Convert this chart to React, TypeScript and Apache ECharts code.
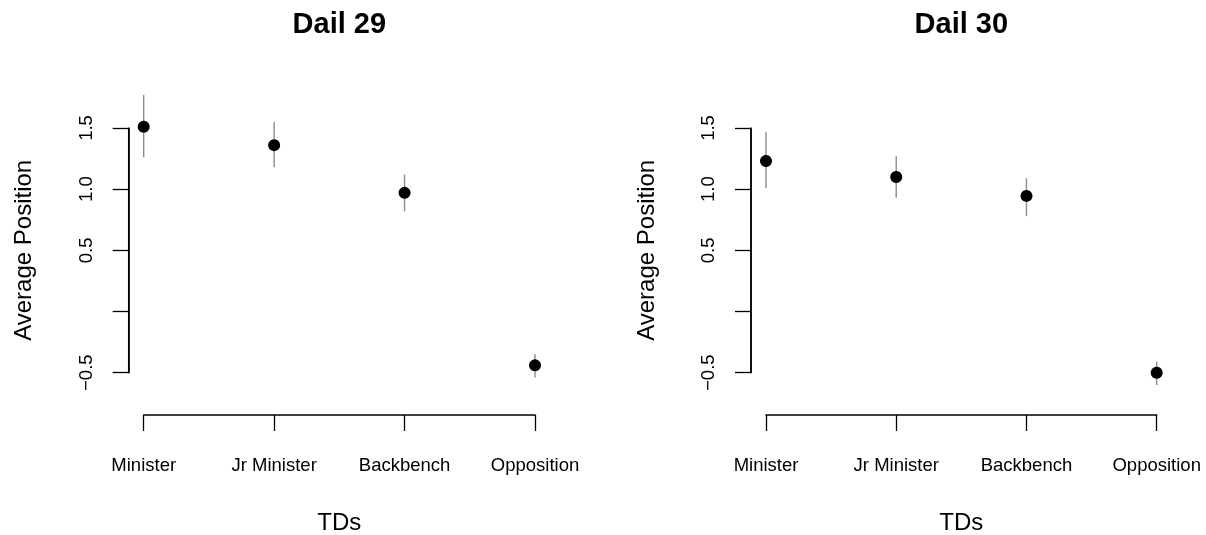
import { useEffect, useRef } from 'react'
import * as echarts from 'echarts'

// 数据：每组的均值与误差线上下端
const categories = ['Minister', 'Jr Minister', 'Backbench', 'Opposition']
const yTicks = [-0.5, 0, 0.5, 1.0, 1.5]

const dail29Mean = [1.51, 1.36, 0.97, -0.44]
const dail29Lo = [1.26, 1.18, 0.82, -0.54]
const dail29Hi = [1.77, 1.55, 1.12, -0.35]

const dail30Mean = [1.23, 1.10, 0.945, -0.50]
const dail30Lo = [1.01, 0.93, 0.78, -0.60]
const dail30Hi = [1.47, 1.27, 1.09, -0.41]

const panels = [
  { title: 'Dail 29', mean: dail29Mean, lo: dail29Lo, hi: dail29Hi },
  { title: 'Dail 30', mean: dail30Mean, lo: dail30Lo, hi: dail30Hi },
]

const FONT = '"Liberation Sans", Arial, Helvetica, sans-serif'
const Y_OFFSET = 15 // y 轴离开第一个类目的距离（R 风格）

// 每个面板的绘图区（第一个到最后一个刻度）
const grids = [
  { left: 143.7, top: 128, width: 391.3, height: 244.7 },
  { left: 766, top: 128, width: 390.7, height: 244.7 },
]

const App: React.FC = () => {
  const chartRef = useRef<HTMLDivElement>(null)

  useEffect(() => {
    if (!chartRef.current) return
    const chart = echarts.init(chartRef.current, null, { renderer: 'svg' })

    const axisLine = () => ({ show: true, onZero: false, lineStyle: { color: '#000', width: 1.5 } })
    const axisTick = () => ({ show: true, length: 16, lineStyle: { color: '#000', width: 1.3 } })

    const option: any = {
      animation: false,
      grid: grids.map((g) => ({ ...g, containLabel: false })),
      graphic: panels.map((p, i) => ({
        type: 'text',
        x: grids[i].left + grids[i].width / 2,
        y: 23,
        style: {
          text: p.title,
          fill: '#000',
          font: `bold 29px ${FONT}`,
          align: 'center',
          verticalAlign: 'middle',
        },
      })),
      xAxis: panels.map((_, i) => ({
        type: 'category',
        gridIndex: i,
        data: categories,
        boundaryGap: false,
        position: 'bottom',
        offset: 42.3,
        axisLine: axisLine(),
        axisTick: axisTick(),
        splitLine: { show: false },
        axisLabel: { margin: 40, color: '#000', fontSize: 18.5, fontFamily: FONT, interval: 0 },
        name: 'TDs',
        nameLocation: 'middle',
        nameGap: 94,
        nameTextStyle: { color: '#000', fontSize: 24, fontFamily: FONT },
      })),
      yAxis: panels.map((_, i) => ({
        type: 'value',
        gridIndex: i,
        min: yTicks[0],
        max: yTicks[yTicks.length - 1],
        interval: 0.5,
        position: 'left',
        offset: Y_OFFSET,
        axisLine: axisLine(),
        axisTick: axisTick(),
        splitLine: { show: false },
        axisLabel: {
          rotate: 90,
          margin: 34,
          color: '#000',
          fontSize: 18.5,
          fontFamily: FONT,
          // 0.0 不显示标签
          formatter: (v: number) => (Math.abs(v) < 1e-9 ? '' : v.toFixed(1).replace('-', '\u2212')),
        },
        name: 'Average Position',
        nameLocation: 'middle',
        nameRotate: 90,
        nameGap: 94,
        nameTextStyle: { color: '#000', fontSize: 24, fontFamily: FONT },
      })),
      series: panels.flatMap((p, i) => [
        // y 轴竖线（备用绘制）
        {
          type: 'custom',
          xAxisIndex: i,
          yAxisIndex: i,
          clip: false,
          silent: true,
          z: 10,
          data: [[0, yTicks[0], yTicks[yTicks.length - 1]]],
          renderItem: (_params: any, api: any) => {
            const a = api.coord([0, api.value(1)])
            const b = api.coord([0, api.value(2)])
            return {
              type: 'rect',
              shape: { x: a[0] - Y_OFFSET - 0.75, y: b[1], width: 1.5, height: a[1] - b[1] },
              style: { fill: '#000' },
            }
          },
        },
        // 误差线
        {
          type: 'custom',
          xAxisIndex: i,
          yAxisIndex: i,
          clip: false,
          data: p.lo.map((lo, k) => [k, lo, p.hi[k]]),
          renderItem: (_params: any, api: any) => {
            const a = api.coord([api.value(0), api.value(1)])
            const b = api.coord([api.value(0), api.value(2)])
            return {
              type: 'line',
              shape: { x1: a[0], y1: a[1], x2: b[0], y2: b[1] },
              style: { stroke: '#8c8c8c', lineWidth: 1.4 },
            }
          },
        },
        {
          type: 'scatter',
          xAxisIndex: i,
          yAxisIndex: i,
          clip: false,
          symbol: 'circle',
          symbolSize: 12,
          itemStyle: { color: '#000', opacity: 1 },
          data: p.mean.map((m, k) => [k, m]),
        },
      ]),
    }

    chart.setOption(option)
    return () => {
      chart.dispose()
    }
  }, [])

  return (
    <div
      ref={chartRef}
      style={{ position: 'fixed', left: 0, top: 0, width: '1206px', height: '535px' }}
    />
  )
}

export default App
